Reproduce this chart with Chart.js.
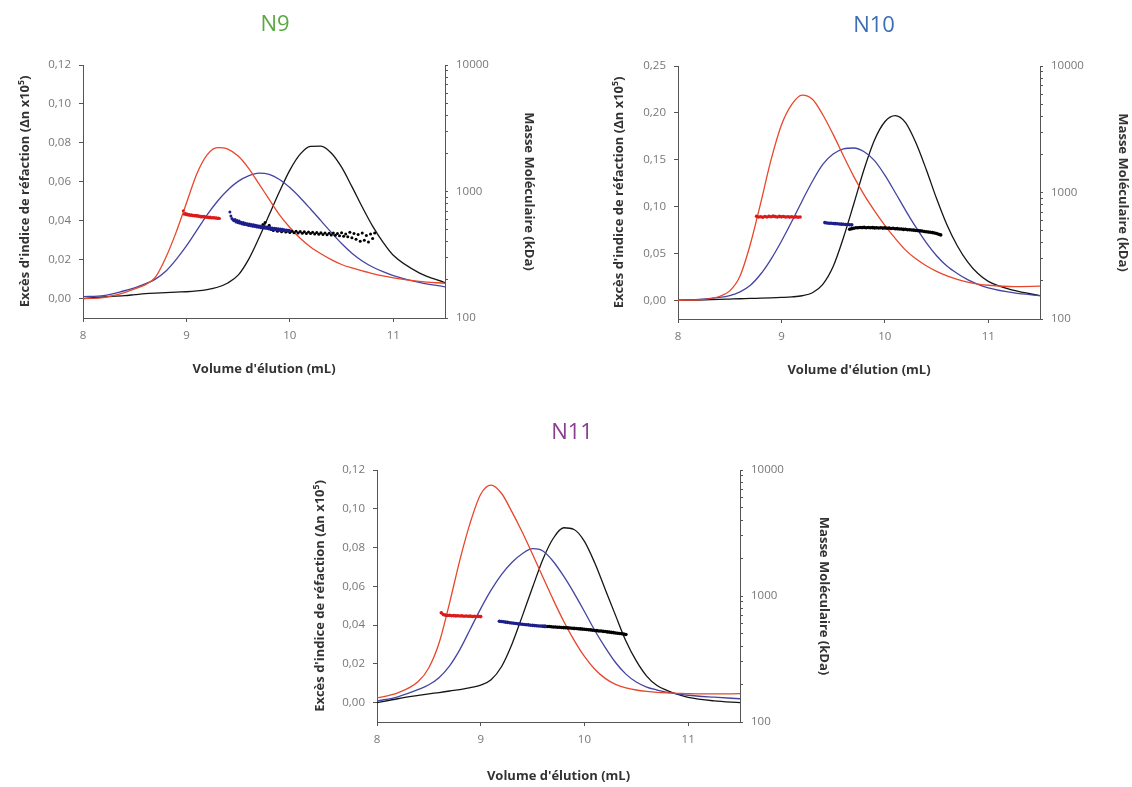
<!DOCTYPE html>
<html lang="fr">
<head>
<meta charset="UTF-8">
<title>Profils d'élution N9, N10, N11</title>
<script src="https://cdn.jsdelivr.net/npm/chart.js"></script>
<style>
  body { margin: 0; background: #fff; width: 1132px; height: 787px; position: relative; overflow: hidden; }
  canvas { position: absolute; }
</style>
</head>
<body>
<canvas id="n9" width="560" height="390" style="left:0;top:0"></canvas>
<canvas id="n10" width="560" height="390" style="left:572px;top:0"></canvas>
<canvas id="n11" width="560" height="387" style="left:275px;top:400px"></canvas>
<script>
// shared axes
const volTicks = [8, 9, 10, 11];
const massTicks = [100, 200, 300, 400, 500, 600, 700, 800, 900, 1000, 2000, 3000, 4000, 5000, 6000, 7000, 8000, 9000, 10000];
const massLabels = [100, 1000, 10000];
const riTicksSmall = [0, 0.02, 0.04, 0.06, 0.08, 0.10, 0.12];
const riTicksLarge = [0, 0.05, 0.10, 0.15, 0.20, 0.25];

// elution volume grid (mL) for the refractive index curves
const volumes = [8.0, 8.2, 8.4, 8.5, 8.6, 8.7, 8.8, 8.9, 9.0, 9.1, 9.2, 9.3, 9.4, 9.5, 9.6, 9.7, 9.8, 9.9,
  10.0, 10.1, 10.2, 10.3, 10.4, 10.5, 10.6, 10.7, 10.8, 10.9, 11.0, 11.25, 11.5];

// ---- N9 ----
const riRedN9 = [0.000, 0.0005, 0.003, 0.005, 0.007, 0.011, 0.021, 0.034, 0.049, 0.064, 0.0738, 0.0775, 0.0768, 0.0732, 0.067, 0.059, 0.051, 0.043,
  0.0365, 0.031, 0.0265, 0.023, 0.020, 0.0175, 0.0157, 0.0142, 0.0128, 0.0116, 0.0106, 0.0088, 0.0078];
const riBlueN9 = [0.001, 0.0015, 0.004, 0.0055, 0.0075, 0.010, 0.014, 0.020, 0.027, 0.035, 0.043, 0.050, 0.0558, 0.0602, 0.063, 0.0644, 0.0638, 0.0612,
  0.057, 0.0518, 0.046, 0.040, 0.034, 0.0283, 0.0233, 0.0193, 0.0162, 0.0138, 0.0118, 0.0083, 0.006];
const riBlackN9 = [0.000, 0.0008, 0.0015, 0.002, 0.0025, 0.0028, 0.003, 0.0033, 0.0035, 0.0039, 0.0046, 0.0058, 0.008, 0.012, 0.020, 0.031, 0.043, 0.055,
  0.066, 0.0742, 0.0782, 0.0783, 0.0748, 0.0675, 0.0575, 0.047, 0.0372, 0.029, 0.0222, 0.0132, 0.0082];

const mVolRedN9 = [8.97, 8.98, 8.99, 9.00, 9.01, 9.02, 9.03, 9.04, 9.05, 9.06, 9.07, 9.08, 9.09, 9.10, 9.11, 9.12, 9.13, 9.14,
  9.15, 9.16, 9.17, 9.18, 9.19, 9.20, 9.21, 9.22, 9.23, 9.24, 9.25, 9.26, 9.27, 9.28, 9.29, 9.30, 9.31, 9.32];
const massRedN9 = [705, 660, 672, 655, 664, 650, 658, 646, 655, 643, 650, 640, 648, 636, 645, 634, 641, 630,
  638, 628, 636, 626, 632, 624, 630, 620, 628, 618, 624, 616, 622, 614, 620, 612, 617, 613];
const mVolBlueN9 = [9.42, 9.43, 9.44, 9.45, 9.46, 9.47, 9.48, 9.49, 9.50, 9.51, 9.52, 9.53, 9.54, 9.55, 9.56, 9.57, 9.58, 9.59, 9.60,
  9.61, 9.62, 9.63, 9.64, 9.65, 9.66, 9.67, 9.68, 9.69, 9.70, 9.71, 9.72, 9.73, 9.74, 9.75, 9.76, 9.77, 9.78, 9.79, 9.80,
  9.81, 9.82, 9.83, 9.84, 9.85, 9.86, 9.87, 9.88, 9.89, 9.90, 9.91, 9.92, 9.93, 9.94, 9.95, 9.96, 9.97, 9.98, 9.99, 10.00];
const massBlueN9 = [690, 640, 612, 598, 588, 602, 575, 590, 566, 584, 560, 571, 553, 568, 549, 561, 545, 557, 538,
  553, 536, 548, 531, 546, 529, 541, 524, 537, 521, 534, 518, 531, 515, 528, 512, 524, 509, 521, 506,
  519, 503, 515, 501, 513, 498, 511, 497, 507, 494, 505, 492, 504, 490, 499, 489, 497, 487, 495, 489];
const mVolBlackN9 = [9.74, 9.76, 9.78, 9.80, 9.82, 9.84, 9.86, 9.88, 9.90, 9.92, 9.94, 9.96, 9.98,
  10.00, 10.02, 10.04, 10.06, 10.08, 10.10, 10.12, 10.14, 10.16, 10.18, 10.20, 10.22, 10.24, 10.26, 10.28,
  10.30, 10.32, 10.34, 10.36, 10.38, 10.40, 10.42, 10.44, 10.46, 10.48, 10.50, 10.52, 10.54, 10.56, 10.58,
  10.60, 10.62, 10.64, 10.66, 10.68, 10.70, 10.72, 10.74, 10.76, 10.78, 10.80, 10.82];
const massBlackN9 = [548, 570, 522, 540, 500, 492, 505, 484, 496, 480, 492, 478, 488,
  475, 486, 472, 484, 470, 482, 468, 480, 466, 478, 465, 476, 462, 474, 460,
  472, 458, 470, 456, 468, 454, 470, 450, 466, 446, 472, 442, 462, 438, 476,
  430, 466, 420, 458, 405, 470, 412, 448, 398, 462, 425, 470];

// ---- N10 ----
const riRedN10 = [0.000, 0.0005, 0.004, 0.010, 0.026, 0.060, 0.104, 0.150, 0.187, 0.209, 0.219, 0.2145, 0.198, 0.177, 0.154, 0.132, 0.1125, 0.0955,
  0.080, 0.066, 0.0535, 0.0442, 0.0368, 0.0308, 0.026, 0.0222, 0.0193, 0.0173, 0.016, 0.0145, 0.015];
const riBlueN10 = [0.000, 0.001, 0.003, 0.005, 0.009, 0.016, 0.028, 0.044, 0.063, 0.084, 0.106, 0.127, 0.145, 0.156, 0.1615, 0.1625, 0.1585, 0.149,
  0.1335, 0.115, 0.096, 0.078, 0.0615, 0.0475, 0.0365, 0.0285, 0.022, 0.017, 0.0132, 0.0078, 0.005];
const riBlackN10 = [0.000, 0.0003, 0.001, 0.0013, 0.0016, 0.002, 0.0022, 0.0025, 0.003, 0.0036, 0.0048, 0.008, 0.017, 0.036, 0.067, 0.103, 0.140, 0.171,
  0.1905, 0.197, 0.1895, 0.168, 0.1395, 0.1085, 0.0805, 0.0582, 0.041, 0.0285, 0.0202, 0.0105, 0.005];

const mVolRedN10 = [8.76, 8.78, 8.80, 8.82, 8.84, 8.86, 8.88, 8.90, 8.92, 8.94, 8.96, 8.98, 9.00, 9.02, 9.04, 9.06, 9.08, 9.10, 9.12, 9.14, 9.16, 9.18];
const massRedN10 = [648, 640, 644, 638, 646, 641, 648, 643, 650, 645, 641, 647, 642, 646, 640, 644, 639, 643, 638, 642, 637, 641];
const mVolBlueN10 = [9.42, 9.44, 9.46, 9.48, 9.50, 9.52, 9.54, 9.56, 9.58, 9.60, 9.62, 9.64, 9.66, 9.68];
const massBlueN10 = [578, 574, 572, 571, 569, 567, 566, 564, 562, 561, 559, 558, 556, 555];
const mVolBlackN10 = [9.66, 9.68, 9.70, 9.72, 9.74, 9.76, 9.78, 9.80, 9.82, 9.84, 9.86, 9.88, 9.90, 9.92, 9.94, 9.96, 9.98,
  10.00, 10.02, 10.04, 10.06, 10.08, 10.10, 10.12, 10.14, 10.16, 10.18, 10.20, 10.22, 10.24, 10.26, 10.28, 10.30,
  10.32, 10.34, 10.36, 10.38, 10.40, 10.42, 10.44, 10.46, 10.48, 10.50, 10.52, 10.54];
const massBlackN10 = [512, 518, 522, 526, 527, 529, 528, 530, 527, 529, 526, 528, 525, 527, 524, 526, 523,
  525, 522, 523, 520, 521, 517, 518, 514, 515, 511, 512, 508, 508, 505, 504, 501,
  500, 497, 496, 492, 490, 487, 485, 482, 478, 474, 468, 462];

// ---- N11 ----
const riRedN11 = [0.0024, 0.005, 0.011, 0.018, 0.031, 0.0515, 0.0738, 0.093, 0.1075, 0.1122, 0.108, 0.0985, 0.088, 0.0765, 0.0647, 0.053, 0.042, 0.0322,
  0.0238, 0.0172, 0.0125, 0.0094, 0.0076, 0.0065, 0.0058, 0.0053, 0.005, 0.0048, 0.0046, 0.0045, 0.0046];
const riBlueN11 = [0.0008, 0.003, 0.0068, 0.0092, 0.013, 0.019, 0.0275, 0.038, 0.0485, 0.058, 0.066, 0.0723, 0.0768, 0.0794, 0.0782, 0.0728, 0.0652, 0.0565,
  0.047, 0.0372, 0.0285, 0.0207, 0.0147, 0.0106, 0.008, 0.0065, 0.0053, 0.0045, 0.0038, 0.0028, 0.002];
const riBlackN11 = [0.000, 0.002, 0.0037, 0.0045, 0.0052, 0.006, 0.0067, 0.0077, 0.009, 0.0118, 0.0185, 0.030, 0.0445, 0.0595, 0.074, 0.0848, 0.0902, 0.0893,
  0.0832, 0.072, 0.0585, 0.045, 0.0318, 0.0215, 0.0137, 0.0088, 0.0062, 0.0042, 0.0027, 0.0009, 0.000];

const mVolRedN11 = [8.62, 8.64, 8.66, 8.68, 8.70, 8.72, 8.74, 8.76, 8.78, 8.80, 8.82, 8.84, 8.86, 8.88, 8.90, 8.92, 8.94, 8.96, 8.98, 9.00];
const massRedN11 = [735, 712, 705, 700, 702, 697, 699, 695, 697, 693, 695, 691, 693, 690, 692, 688, 690, 687, 689, 686];
const mVolBlueN11 = [9.18, 9.20, 9.22, 9.24, 9.26, 9.28, 9.30, 9.32, 9.34, 9.36, 9.38, 9.40, 9.42, 9.44, 9.46, 9.48, 9.50, 9.52, 9.54, 9.56, 9.58, 9.60, 9.62];
const massBlueN11 = [630, 627, 624, 620, 618, 613, 611, 607, 605, 601, 599, 596, 594, 591, 590, 586, 585, 582, 581, 578, 578, 575, 574];
const mVolBlackN11 = [9.60, 9.62, 9.64, 9.66, 9.68, 9.70, 9.72, 9.74, 9.76, 9.78, 9.80, 9.82, 9.84, 9.86, 9.88, 9.90, 9.92, 9.94, 9.96, 9.98,
  10.00, 10.02, 10.04, 10.06, 10.08, 10.10, 10.12, 10.14, 10.16, 10.18, 10.20, 10.22, 10.24, 10.26, 10.28, 10.30,
  10.32, 10.34, 10.36, 10.38, 10.40];
const massBlackN11 = [576, 574, 573, 572, 570, 568, 568, 565, 565, 562, 561, 560, 558, 557, 555, 553, 552, 549, 548, 546,
  544, 542, 539, 538, 535, 533, 531, 528, 527, 524, 522, 519, 517, 514, 512, 509,
  506, 504, 501, 498, 495];

const RED = '#e8472b', BLUE = '#4444a2', BLACK = '#151515';
const DOT_RED = '#dd1a1a', DOT_BLUE = '#1d1d8c', DOT_BLACK = '#000000';

const pairs = (xs, ys) => xs.map((x, i) => ({ x: x, y: ys[i] }));
const fmt = v => v.toFixed(2).replace('.', ',');

// draws the panel heading (N9, N10, N11)
Chart.register({
  id: 'panelTitle',
  afterDraw(chart, args, o) {
    if (!o.text) return;
    const ctx = chart.ctx;
    ctx.save();
    ctx.font = '22px "Open Sans"';
    ctx.fillStyle = o.color;
    ctx.textAlign = 'center';
    ctx.textBaseline = 'middle';
    ctx.fillText(o.text, o.x, o.y);
    ctx.restore();
  }
});

function curve(ys, color) {
  return { data: pairs(volumes, ys), yAxisID: 'y', showLine: true, pointRadius: 0,
    borderColor: color, borderWidth: 1.3, cubicInterpolationMode: 'monotone', order: 2 };
}
function dots(xs, ms, color, r) {
  return { data: pairs(xs, ms), yAxisID: 'y1', showLine: false, pointRadius: r, pointBorderWidth: 0,
    backgroundColor: color, borderColor: color, order: 1 };
}

const tickFont = { family: 'Open Sans', size: 11.5 };
const titleFont = { family: 'Open Sans', size: 13, weight: 'bold' };
const axisGrid = { display: true, drawOnChartArea: false, drawTicks: true, tickLength: 4, color: '#555' };
const axisBorder = { display: true, color: '#555', width: 1 };

function panel(id, p) {
  new Chart(document.getElementById(id), {
    type: 'scatter',
    data: {
      datasets: [
        dots(p.mRed[0], p.mRed[1], DOT_RED, p.r),
        dots(p.mBlue[0], p.mBlue[1], DOT_BLUE, p.r),
        dots(p.mBlack[0], p.mBlack[1], DOT_BLACK, p.r),
        curve(p.red, RED),
        curve(p.blue, BLUE),
        curve(p.black, BLACK)
      ]
    },
    options: {
      responsive: false,
      animation: false,
      devicePixelRatio: 1,
      layout: { padding: { top: p.top, left: 0, right: 0, bottom: 0 } },
      plugins: {
        legend: { display: false },
        tooltip: { enabled: false },
        panelTitle: { text: p.name, color: p.color, x: p.tx, y: p.ty }
      },
      scales: {
        x: {
          type: 'linear', min: 8, max: 11.5,
          afterFit: s => { s.height = p.xH; },
          afterBuildTicks: s => { s.ticks = volTicks.map(v => ({ value: v })); },
          ticks: { font: tickFont, color: '#777', padding: 7, autoSkip: false, maxRotation: 0 },
          grid: axisGrid, border: axisBorder,
          title: { display: true, text: "Volume d'élution (mL)", font: titleFont, color: '#333', padding: { top: 0, bottom: p.xT } }
        },
        y: {
          type: 'linear', position: 'left', min: p.yMin, max: p.yMax,
          afterFit: s => { s.width = p.yW; },
          afterBuildTicks: s => { s.ticks = p.yTicks.map(v => ({ value: v })); },
          ticks: { font: tickFont, color: '#777', padding: 8, autoSkip: false, callback: v => fmt(v) },
          grid: axisGrid, border: axisBorder,
          title: { display: true, text: "Excès d'indice de réfaction (Δn x10⁵)", font: titleFont, color: '#333', padding: { top: p.yT, bottom: 0 } }
        },
        y1: {
          type: 'logarithmic', position: 'right', min: 100, max: 10000,
          afterFit: s => { s.width = p.y1W; },
          afterBuildTicks: s => { s.ticks = massTicks.map(v => ({ value: v })); },
          ticks: { font: tickFont, color: '#777', padding: 8, autoSkip: false,
            callback: v => massLabels.includes(v) ? String(v) : '' },
          grid: { display: true, drawOnChartArea: false, drawTicks: true, tickLength: 3, color: '#555' },
          border: axisBorder,
          title: { display: true, text: 'Masse Moléculaire (kDa)', font: titleFont, color: '#333', padding: { top: p.y1T, bottom: 0 } }
        }
      }
    }
  });
}

panel('n9', {
  name: 'N9', color: '#5aa845', tx: 275, ty: 25,
  top: 65, xH: 72, xT: 13, yW: 83, yT: 17, y1W: 115, y1T: 23, r: 1.5,
  yMin: -0.01, yMax: 0.12, yTicks: riTicksSmall,
  red: riRedN9, blue: riBlueN9, black: riBlackN9,
  mRed: [mVolRedN9, massRedN9], mBlue: [mVolBlueN9, massBlueN9], mBlack: [mVolBlackN9, massBlackN9]
});

panel('n10', {
  name: 'N10', color: '#3d6db5', tx: 302, ty: 26,
  top: 66, xH: 71, xT: 12, yW: 106, yT: 39, y1W: 92, y1T: 1, r: 1.8,
  yMin: -0.02, yMax: 0.25, yTicks: riTicksLarge,
  red: riRedN10, blue: riBlueN10, black: riBlackN10,
  mRed: [mVolRedN10, massRedN10], mBlue: [mVolBlueN10, massBlueN10], mBlack: [mVolBlackN10, massBlackN10]
});

panel('n11', {
  name: 'N11', color: '#8a3d8e', tx: 297, ty: 33,
  top: 70, xH: 65, xT: 3, yW: 102, yT: 37, y1W: 95, y1T: 3, r: 1.8,
  yMin: -0.01, yMax: 0.12, yTicks: riTicksSmall,
  red: riRedN11, blue: riBlueN11, black: riBlackN11,
  mRed: [mVolRedN11, massRedN11], mBlue: [mVolBlueN11, massBlueN11], mBlack: [mVolBlackN11, massBlackN11]
});
</script>
</body>
</html>
